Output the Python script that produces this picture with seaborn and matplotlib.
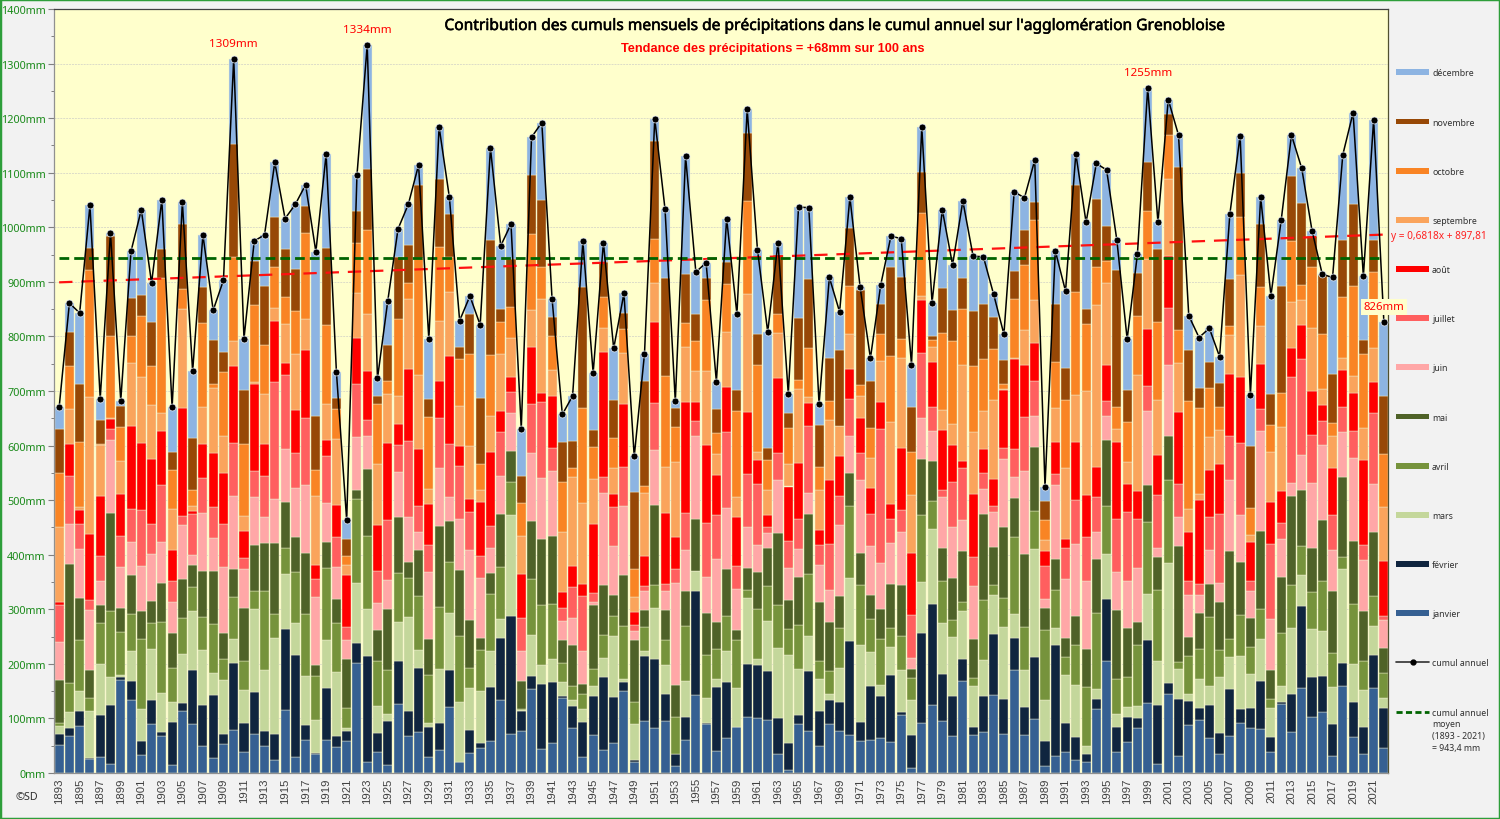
import numpy as np
import pandas as pd
import matplotlib
matplotlib.use('Agg')
import matplotlib.pyplot as plt
import matplotlib.patheffects as pe
import seaborn as sns
from matplotlib.lines import Line2D
from matplotlib.patches import Patch, Rectangle

# --- donnees (en mm) ---
annees = list(range(1893, 2023))
annees_ticks = list(range(1893, 2022, 2))
graduations = list(range(0, 1401, 100))

janvier = [51,68,86,25,29,16,171,134,33,90, 67,15,114,89,50,27,53,79,38,71,
           49,24,115,30,60,35,61,47,59,202, 20,39,15,126,67,75,30,42,121,20,
           37,46,59,134,72,77,154,44,55,137, 83,30,70,43,55,151,20,95,82,95,
           13,61,143,89,40,64,84,103,100,97, 35,5,90,77,49,89,77,70,58,60,
           64,57,107,10,92,125,95,67,169,70, 76,143,71,188,70,99,13,31,39,24,
           21,117,205,39,57,82,128,16,145,32, 88,98,64,34,67,92,82,80,38,126,
           75,156,103,112,31,159,66,35,156,46]
fevrier = [20,15,28,2,78,109,5,35,25,43, 8,79,15,100,75,116,19,123,54,77,
           28,48,149,186,28,1,95,21,18,36, 195,35,81,79,46,118,54,50,67,1,
           42,9,99,113,216,37,24,119,112,5, 40,63,71,133,84,15,4,119,127,50,
           21,42,191,3,117,103,1,97,97,90, 65,50,17,109,65,45,54,171,36,100,
           77,122,5,60,165,184,86,74,40,15, 65,111,64,60,51,114,45,204,53,42,
           14,19,114,46,46,18,116,109,20,103, 44,21,61,40,87,25,37,89,28,4,
           70,150,73,66,59,43,65,50,60,73]
mars = [16,29,37,87,92,51,3,55,60,95, 71,37,89,107,100,41,99,43,60,153,
        112,175,100,59,90,61,88,117,5,111, 85,48,13,71,173,32,7,98,106,109,
        76,95,66,36,184,2,75,35,42,24, 10,24,18,35,112,6,65,10,93,52,
        1,65,36,45,15,57,71,120,11,91, 129,161,84,65,59,10,61,116,141,61,
        20,52,76,64,93,139,94,109,88,75, 66,73,133,44,67,197,76,31,87,95,
        15,18,83,23,18,22,84,81,220,55, 13,54,35,102,59,97,63,77,54,29,
        120,57,88,82,67,172,68,68,53,18]
avril = [5,53,93,23,76,120,79,68,128,46, 130,62,66,45,61,89,37,78,53,33,
         145,44,48,93,114,81,132,90,37,154, 134,84,79,90,71,99,88,114,92,121,
         37,75,104,94,61,2,103,110,100,35, 26,27,31,42,36,97,42,43,43,47,
         68,101,1,79,55,64,88,15,93,64, 79,48,81,114,33,42,73,133,110,61,
         84,34,63,40,122,50,77,31,16,15, 110,18,52,140,80,70,128,70,34,74,
         108,140,87,65,55,112,132,130,151,14, 69,54,125,49,33,75,48,55,15,98,
         79,53,67,91,63,21,110,53,56,47]
mai = [79,218,77,51,32,180,45,70,51,42, 73,64,72,40,84,98,49,50,98,84,
       87,130,84,64,112,20,48,44,89,16, 123,56,113,104,29,84,67,148,76,121,
       88,23,38,97,57,50,105,120,126,42, 76,20,117,92,40,93,112,32,147,55,
       59,65,95,77,50,86,18,40,68,71, 131,53,88,109,107,90,59,59,59,44,
       56,81,94,16,104,73,60,76,94,70, 157,70,131,72,134,117,41,56,34,53,
       70,98,122,125,89,42,68,59,81,212, 35,67,62,88,161,98,54,143,54,102,
       163,102,81,113,114,147,117,90,116,45]
juin = [69,73,89,110,44,134,75,62,82,85, 75,57,98,18,106,59,120,135,70,88,
        49,82,97,90,123,124,71,59,35,97, 61,49,53,81,84,33,123,106,43,94,
        128,109,46,71,70,56,126,113,118,35, 49,60,7,169,89,128,17,34,99,35,
        187,75,152,67,115,112,75,76,48,26, 97,59,50,40,69,59,130,69,132,90,
        83,75,97,20,75,55,93,93,56,97, 46,63,125,38,152,57,15,135,108,131,
        123,49,44,71,86,99,136,18,131,53, 78,33,62,35,130,85,49,183,93,70,
        24,64,119,137,75,82,151,95,88,51]
juillet = [67,88,46,19,46,20,56,60,103,56, 103,37,17,75,65,57,80,97,21,48,
           75,214,137,65,123,34,86,54,24,97, 29,60,110,50,138,49,49,93,98,97,
           71,40,40,79,38,60,90,138,43,24, 56,101,16,29,72,71,11,9,87,13,
           24,68,27,98,81,138,42,96,112,11, 51,49,56,122,35,85,54,68,51,59,
           247,44,40,79,119,45,13,84,95,53, 30,12,20,52,98,65,62,20,57,82,
           82,65,27,96,128,90,46,97,104,60, 24,20,61,126,81,132,19,40,137,29,
           194,176,88,44,63,47,49,26,130,7]
aout = [7,59,26,121,111,19,78,152,122,118, 100,57,197,7,61,100,92,141,50,159,
        58,111,21,79,125,26,29,59,95,84, 89,84,141,38,133,104,75,68,161,37,
        23,100,136,39,27,81,104,18,95,29, 39,21,126,229,24,116,24,55,149,129,
        60,203,35,143,73,84,91,114,44,22, 136,100,102,42,29,117,73,55,63,48,
        48,28,114,115,96,83,111,67,14,117, 43,49,105,165,96,69,26,60,16,106,
        76,54,66,141,50,51,104,73,96,133, 90,153,86,93,114,122,71,83,78,58,
        54,63,81,29,86,67,70,156,57,101]
septembre = [136,64,5,251,93,2,59,116,121,99, 33,76,182,8,68,119,69,46,27,4,
             92,24,72,102,57,125,67,121,20,83, 105,112,90,52,127,135,27,109,117,73,
             98,21,67,104,73,70,68,172,48,110, 163,149,82,43,46,92,27,117,70,84,
             136,101,56,135,38,100,36,216,16,46, 84,41,136,11,73,110,54,64,41,54,
             76,150,165,106,8,27,36,38,175,112, 71,145,2,2,63,79,21,61,130,86,
             191,298,149,25,40,214,127,101,140,90, 42,12,60,61,71,187,13,69,92,118,
             84,45,116,29,59,22,31,60,62,100]
octobre = [99,79,119,233,2,149,63,48,113,71, 247,72,37,30,155,6,116,153,131,141,
           90,76,49,78,158,49,144,55,16,91, 154,110,24,141,30,215,133,135,65,86,
           168,48,111,59,56,60,139,59,61,93, 16,174,59,57,56,45,51,12,81,168,
           65,43,56,130,39,88,158,171,158,55, 35,66,17,90,42,35,1,87,20,55,
           49,122,35,78,153,13,141,153,104,121, 95,93,9,108,120,147,37,86,126,189,
           122,70,42,40,74,107,88,143,81,60, 198,156,90,42,17,105,49,72,48,62,
           112,29,111,101,25,113,165,135,140,96]
novembre = [81,62,107,40,43,184,38,71,38,82, 54,32,119,95,66,81,37,208,99,81,
            107,91,88,77,49,99,141,20,31,59, 112,13,65,113,69,134,32,126,78,22,
            73,122,210,25,88,50,108,122,35,72, 51,221,31,65,70,29,142,192,181,179,
            34,91,49,41,44,41,37,125,57,22, 108,27,112,126,76,79,139,106,174,87,
            56,162,113,83,75,6,82,57,56,101, 101,59,44,51,64,33,35,105,59,195,
            28,124,64,250,59,80,91,133,39,299, 95,38,48,44,85,82,115,115,58,196,
            119,149,57,108,89,104,151,26,59,106]
decembre = [40,53,130,78,40,6,10,85,156,71, 89,82,40,122,95,55,132,156,95,36,
            94,100,56,119,39,300,172,48,34,65, 227,33,81,52,75,36,110,95,31,48,
            33,133,169,115,64,86,69,142,34,51, 82,84,105,35,94,36,65,50,40,126,
            13,215,77,28,50,79,140,43,155,213, 22,36,204,131,39,147,70,57,5,41,
            34,57,70,77,81,62,144,82,141,101, 86,41,48,145,59,76,25,98,140,58,
            159,65,102,55,93,34,135,49,26,58, 62,92,61,49,119,68,93,49,180,121,
            75,64,10,2,177,156,167,116,220,136]
moyenne = 943.4

mois = ['décembre', 'novembre', 'octobre', 'septembre', 'août', 'juillet',
        'juin', 'mai', 'avril', 'mars', 'février', 'janvier']
couleurs = ['#8db4e2', '#974806', '#f98424', '#faa45c', '#ff0000', '#ff5f5f',
            '#ffa7a7', '#4f6228', '#76933c', '#c4d79b', '#10253f', '#366092']
series = [decembre, novembre, octobre, septembre, aout, juillet,
          juin, mai, avril, mars, fevrier, janvier]

df = pd.DataFrame({m: s for m, s in zip(mois, series)}, index=annees)
cumul = df.sum(axis=1)
long_df = df.rename_axis('annee').reset_index().melt('annee', var_name='mois', value_name='mm')

sns.set_theme(style='white')
plt.rcParams['font.family'] = ['DejaVu Sans']

fig = plt.figure(figsize=(15, 8.2), dpi=100, facecolor='#f2f2f2')
ax = fig.add_axes([54 / 1500, 1 - 774 / 820, 1334 / 1500, 764 / 820])
ax.set_facecolor('#ffffcc')
ax.yaxis.grid(True, color='#dcdcc8', lw=0.7, ls=(0, (2, 1)))
ax.set_axisbelow(True)

# barres empilees
sns.histplot(data=long_df, x='annee', weights='mm', hue='mois', hue_order=mois,
             palette=dict(zip(mois, couleurs)), multiple='stack', discrete=True,
             shrink=0.88, alpha=1, linewidth=0.3, edgecolor='#f0efd0', legend=False, ax=ax)

# tendance, moyenne, cumul annuel
sns.regplot(x=annees, y=cumul.values, scatter=False, ci=None, truncate=True, ax=ax,
            line_kws={'color': '#ff1010', 'lw': 1.6, 'ls': (0, (6, 4)), 'zorder': 4})
sns.lineplot(x=annees, y=[moyenne] * len(annees), color='#006400', lw=2,
             ls=(0, (3.5, 1.8)), ax=ax, zorder=5)
sns.lineplot(x=annees, y=cumul.values, color='black', lw=1.1, marker='o', ms=5,
             mec='#e6eef8', mew=0.5, ax=ax, zorder=6)

ax.set_xlim(1892.5, 2022.4)
ax.set_ylim(0, 1400)
ax.set_xlabel('')
ax.set_ylabel('')
ax.set_yticks(graduations)
ax.set_yticks(np.array(graduations[:-1]) + 50, minor=True)
ax.set_yticklabels([f'{g}mm' for g in graduations], color='#1a8a1a', fontsize=7.8,
                   fontweight='bold', family=['Noto Sans'])
ax.set_xticks(annees_ticks)
ax.set_xticklabels(annees_ticks, rotation=90, color='#404040', fontsize=8.2, family=['Liberation Sans'])
ax.tick_params(axis='y', which='major', length=4, width=0.8, color='#808080', left=True, pad=2)
ax.tick_params(axis='y', which='minor', length=2, width=0.7, color='#808080', left=True)
ax.tick_params(axis='x', length=0, pad=3)
for cote, c in zip(['left', 'bottom', 'top', 'right'], ['#909090', '#909090', '#404040', '#505030']):
    ax.spines[cote].set_visible(True)
    ax.spines[cote].set_color(c)
    ax.spines[cote].set_linewidth(0.9)

# titres
titre = fig.text(836 / 1500, 1 - 27 / 820,
                 "Contribution des cumuls mensuels de précipitations dans le cumul annuel sur l'agglomération Grenobloise",
                 ha='center', va='center', fontsize=11.2, color='black', family=['Noto Sans'])
titre.set_path_effects([pe.withStroke(linewidth=0.4, foreground='black')])
fig.text(773 / 1500, 1 - 49 / 820, 'Tendance des précipitations = +68mm sur 100 ans',
         ha='center', va='center', fontsize=9.2, color='#ff0000', fontweight='bold', family=['Liberation Sans'])

# valeurs remarquables
for an in [1910, 1923, 1999]:
    ax.annotate(f'{cumul[an]}mm', (an, cumul[an]), xytext=(0, 11), textcoords='offset points',
                ha='center', va='center', color='#ff0000', fontsize=8.4, family=['Noto Sans'])
ax.annotate(f'{cumul[2022]}mm', (2022, cumul[2022]), xytext=(0, 11), textcoords='offset points',
            ha='center', va='center', color='#ff0000', fontsize=8.2, fontweight='bold',
            family=['Noto Sans'], zorder=8, annotation_clip=False,
            bbox=dict(boxstyle='square,pad=0.25', fc='#ffffcc', ec='none'))
fig.text(1391 / 1500, 1 - 236 / 820, 'y = 0,6818x + 897,81', ha='left', va='center', color='#ff2020',
         fontsize=7.3, fontweight='bold', family=['Noto Sans'])
fig.text(15 / 1500, 1 - 798 / 820, '©SD', ha='left', va='center', color='#303030',
         fontsize=7.8, fontweight='bold', family=['Noto Sans'])

# legende
poignees = [Patch(fc=c, ec='none') for c in couleurs]
poignees.append(Line2D([], [], color='#303030', lw=1.2, marker='o', ms=3.5, mfc='black', mec='black'))
poignees.append(Line2D([], [], color='#006400', lw=2, ls=(0, (2.2, 1.2))))
etiquettes = mois + ['cumul annuel', 'cumul annuel']
fig.legend(poignees, etiquettes, loc='upper left', bbox_to_anchor=(1393.4 / 1500, 1 - 66.8 / 820),
           frameon=False, labelspacing=4.59, handlelength=3.77, handleheight=0.65,
           handletextpad=0.35, borderaxespad=0, borderpad=0.3, labelcolor='#303030',
           prop={'family': ['Noto Sans'], 'size': 6.3})
fig.text(1432 / 1500, 1 - 720 / 820, 'moyen\n(1893 - 2021)\n= 943,4 mm', ha='left', va='top',
         color='#303030', fontsize=6.3, linespacing=1.45, family=['Noto Sans'])

fig.add_artist(Rectangle((0, 0), 1, 1, transform=fig.transFigure, fill=False, ec='#2e9e3a', lw=2.5))

fig.savefig('out.png', dpi=100, facecolor=fig.get_facecolor())
